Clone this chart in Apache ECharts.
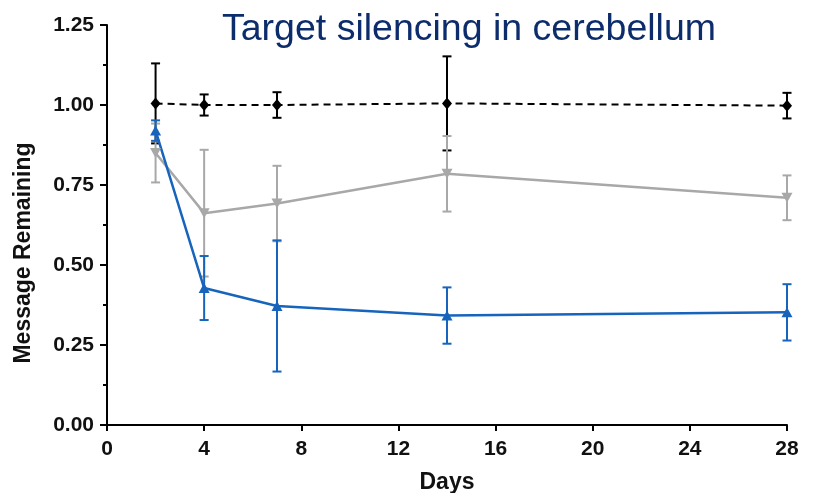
<!DOCTYPE html>
<html>
<head>
<meta charset="utf-8">
<script src="https://cdn.jsdelivr.net/npm/echarts@6/dist/echarts.min.js"></script>
<style>
  html, body { margin: 0; padding: 0; background: #fff; }
  #chart { width: 813px; height: 493px; }
</style>
</head>
<body>
<div id="chart"></div>
<script>
// Sampling days
const days = [2, 4, 7, 14, 28];

// Control group (mean and error)
const controlMean = [1.005, 1.000, 1.000, 1.005, 0.998];
const controlErr  = [0.125, 0.033, 0.040, 0.147, 0.040];

// Low-dose group
const lowMean = [0.850, 0.662, 0.692, 0.785, 0.710];
const lowErr  = [0.092, 0.198, 0.118, 0.118, 0.070];

// High-dose group
const highMean = [0.920, 0.428, 0.372, 0.342, 0.352];
const highErr  = [0.032, 0.100, 0.205, 0.088, 0.088];

// Axis ticks
const xTicks = [0, 4, 8, 12, 16, 20, 24, 28];
const yTicks = ['0.00', '0.25', '0.50', '0.75', '1.00', '1.25'];

const FONT = 'Liberation Sans, Arial, sans-serif';
const BLACK = '#000000';
const GRAY = '#a8a8a8';
const BLUE = '#1764bd';

function points(means) {
  return days.map((d, i) => [d, means[i]]);
}
function bars(means, errs) {
  return days.map((d, i) => [d, means[i] - errs[i], means[i] + errs[i]]);
}

function errorSeries(name, data, color) {
  return {
    type: 'custom',
    name: name,
    data: data,
    encode: { x: 0, y: [1, 2] },
    renderItem: function (params, api) {
      const x = api.value(0);
      const lo = api.coord([x, api.value(1)]);
      const hi = api.coord([x, api.value(2)]);
      const half = 4.5;
      const style = { stroke: color, lineWidth: 2, fill: null };
      return {
        type: 'group',
        children: [
          { type: 'line', shape: { x1: lo[0], y1: lo[1], x2: hi[0], y2: hi[1] }, style: style },
          { type: 'line', shape: { x1: hi[0] - half, y1: hi[1], x2: hi[0] + half, y2: hi[1] }, style: style },
          { type: 'line', shape: { x1: lo[0] - half, y1: lo[1], x2: lo[0] + half, y2: lo[1] }, style: style }
        ]
      };
    },
    silent: true
  };
}

const chart = echarts.init(document.getElementById('chart'), null, { renderer: 'canvas' });

chart.setOption({
  animation: false,
  backgroundColor: '#ffffff',
  title: {
    text: 'Target silencing in cerebellum',
    left: 217,
    top: 6,
    textStyle: { fontFamily: FONT, fontSize: 37.5, fontWeight: 'normal', color: '#0c2c6c' }
  },
  grid: { left: 107, right: 26, top: 25, bottom: 68, containLabel: false },
  xAxis: {
    type: 'value',
    min: 0, max: 28, interval: 4,
    axisLine: { show: true, lineStyle: { color: BLACK, width: 2 } },
    axisTick: { show: true, length: 6, lineStyle: { color: BLACK, width: 2 } },
    splitLine: { show: false },
    axisLabel: {
      margin: 14,
      fontFamily: FONT, fontSize: 21, fontWeight: 'bold', color: '#111',
      formatter: v => (xTicks.indexOf(v) >= 0 ? String(v) : '')
    }
  },
  yAxis: {
    type: 'value',
    min: 0, max: 1.25, interval: 0.25,
    axisLine: { show: true, lineStyle: { color: BLACK, width: 2 } },
    axisTick: { show: true, length: 7, lineStyle: { color: BLACK, width: 2 } },
    minorTick: { show: true, splitNumber: 2, length: 4, lineStyle: { color: BLACK, width: 2 } },
    splitLine: { show: false },
    axisLabel: {
      margin: 13,
      fontFamily: FONT, fontSize: 21, fontWeight: 'bold', color: '#111',
      formatter: v => yTicks[Math.round(v / 0.25)]
    }
  },
  graphic: [
    {
      type: 'text',
      x: 24, y: 253,
      rotation: Math.PI / 2,
      style: {
        text: 'Message Remaining',
        font: 'bold 23px ' + FONT,
        fill: '#111',
        align: 'center',
        verticalAlign: 'middle'
      }
    },
    {
      type: 'text',
      x: 447, y: 483,
      style: {
        text: 'Days',
        font: 'bold 23px ' + FONT,
        fill: '#111',
        align: 'center',
        verticalAlign: 'middle'
      }
    }
  ],
  series: [
    errorSeries('Control error', bars(controlMean, controlErr), BLACK),
    {
      type: 'line',
      name: 'Control',
      data: points(controlMean),
      symbol: 'diamond',
      symbolSize: [10, 12],
      itemStyle: { color: BLACK },
      lineStyle: { color: BLACK, width: 2, type: [7, 5] }
    },
    errorSeries('Low error', bars(lowMean, lowErr), GRAY),
    {
      type: 'line',
      name: 'Low',
      data: points(lowMean),
      symbol: 'triangle',
      symbolRotate: 180,
      symbolSize: [11, 10],
      itemStyle: { color: GRAY },
      lineStyle: { color: GRAY, width: 2.5 }
    },
    errorSeries('High error', bars(highMean, highErr), BLUE),
    {
      type: 'line',
      name: 'High',
      data: points(highMean),
      symbol: 'triangle',
      symbolSize: [11, 10],
      itemStyle: { color: BLUE },
      lineStyle: { color: BLUE, width: 2.5 }
    }
  ]
});
</script>
</body>
</html>
